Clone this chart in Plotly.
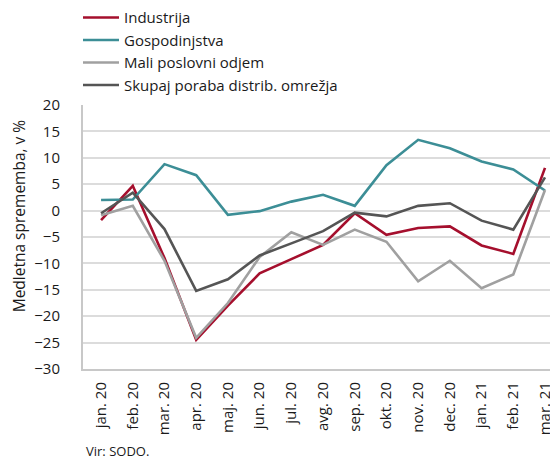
import plotly.graph_objects as go

categories = ["jan. 20", "feb. 20", "mar. 20", "apr. 20", "maj. 20", "jun. 20", "jul. 20",
              "avg. 20", "sep. 20", "okt. 20", "nov. 20", "dec. 20", "jan. 21", "feb. 21", "mar. 21"]

industrija = [-1.8, 4.7, -9.0, -24.5, -18.0, -11.9, -9.2, -6.5, -0.5, -4.6, -3.3, -3.0, -6.6, -8.2, 8.1]
gospodinjstva = [2.0, 2.1, 8.8, 6.7, -0.8, -0.1, 1.7, 3.0, 0.9, 8.6, 13.4, 11.8, 9.3, 7.8, 3.8]
mali_poslovni = [-0.9, 0.9, -9.5, -24.1, -17.5, -8.8, -4.1, -6.5, -3.6, -5.9, -13.4, -9.5, -14.7, -12.1, 3.9]
skupaj = [-0.5, 3.4, -3.5, -15.2, -13.0, -8.5, -6.2, -3.9, -0.4, -1.1, 0.9, 1.4, -1.9, -3.6, 6.3]

series = [
    ("Industrija", industrija, "#A50F2D"),
    ("Gospodinjstva", gospodinjstva, "#3C8E96"),
    ("Mali poslovni odjem", mali_poslovni, "#A0A0A0"),
    ("Skupaj poraba distrib. omrežja", skupaj, "#555555"),
]

font_family = "Open Sans, Noto Sans, sans-serif"

W, H = 558, 461
ML, MT, MR, MB = 75, 96.5, 8, 100
plot_h = H - MT - MB

fig = go.Figure()
for name, vals, color in series:
    fig.add_trace(go.Scatter(x=categories, y=vals, name=name, mode="lines",
                             line=dict(color=color, width=2.6)))

fig.update_layout(
    width=W, height=H,
    margin=dict(l=ML, r=MR, t=MT, b=MB, autoexpand=False),
    paper_bgcolor="white", plot_bgcolor="white",
    font=dict(family=font_family, size=15, color="#1a1a1a"),
    showlegend=True,
    legend=dict(x=70 / W, xref="container", y=1 + (MT + 7.5) / plot_h, yref="paper",
                yanchor="top", xanchor="left", font=dict(size=15),
                bgcolor="rgba(0,0,0,0)", itemwidth=36, tracegroupgap=0),
    xaxis=dict(type="category", tickangle=-90, showgrid=False, showline=True,
               linecolor="#c8c8c8", linewidth=2, ticks="", tickfont=dict(size=15),
               ticklabelstandoff=5, range=[-0.57, 14.41]),
    yaxis=dict(range=[-30, 20], dtick=5, showgrid=True, gridcolor="#dcdcdc", gridwidth=1.5,
               showline=True, linecolor="#c8c8c8", linewidth=2, zeroline=False,
               ticks="", tickfont=dict(size=15), ticklabelstandoff=18),
    annotations=[
        dict(text="Medletna sprememba, v %", xref="paper", yref="paper", x=0,
             y=(H - MB - 208) / plot_h, xanchor="center", yanchor="middle",
             xshift=11 - ML, textangle=-90, showarrow=False, font=dict(size=15.5)),
        dict(text="Vir: SODO.", xref="paper", yref="paper", x=0, y=0,
             xanchor="left", yanchor="middle", yshift=-82, xshift=1, showarrow=False,
             font=dict(size=13)),
    ],
)

fig.write_html("out.html")
